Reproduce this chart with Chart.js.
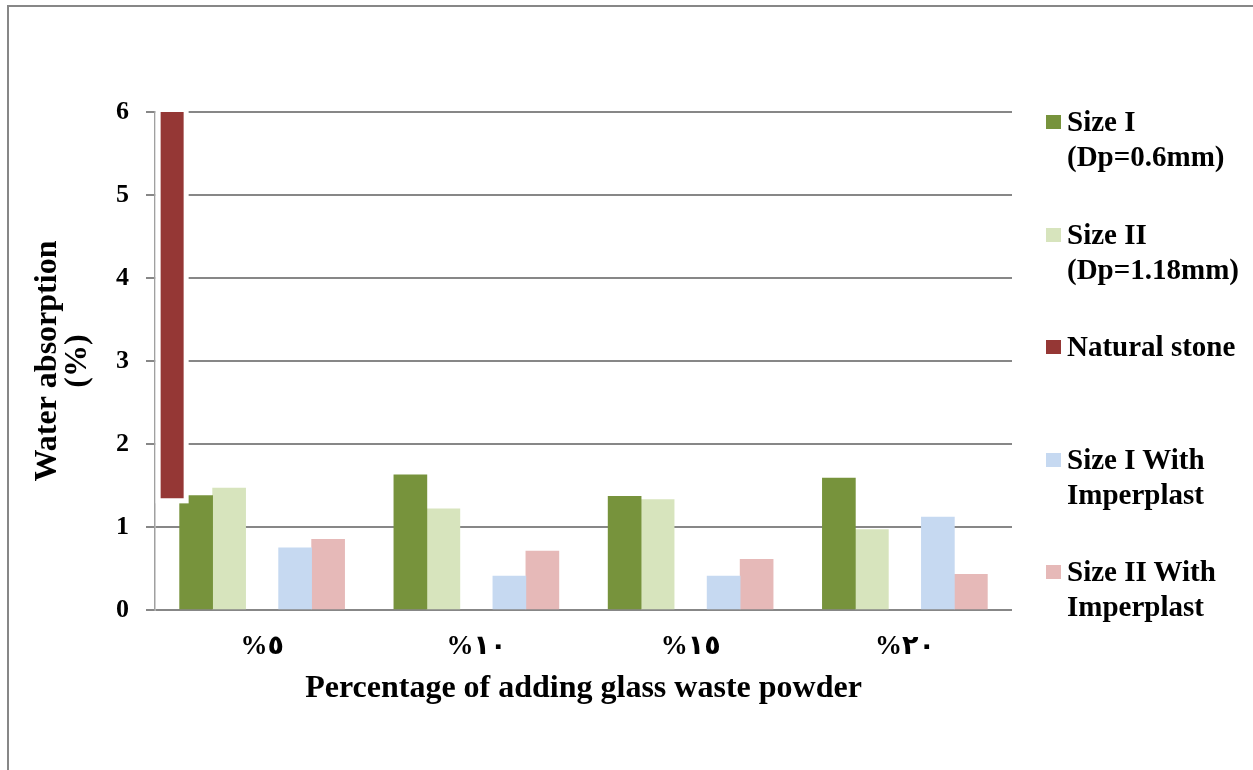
<!DOCTYPE html>
<html>
<head>
<meta charset="utf-8">
<title>Water absorption</title>
<script src="https://cdn.jsdelivr.net/npm/chart.js@4.4.1/dist/chart.umd.min.js"></script>
<style>
  html, body { margin: 0; padding: 0; background: #ffffff; overflow: hidden; }
  #frame { position: absolute; left: 7px; top: 5px; width: 1400px; height: 900px; border: 2px solid #878787; }
  #wrap { position: absolute; left: 0; top: 0; width: 1253px; height: 770px; }
  #legend { position: absolute; left: 1046px; top: 104px; font: bold 29px "Liberation Serif", "Times New Roman", serif; color: #000; line-height: 35px; }
  #legend .item { position: absolute; left: 0; width: 210px; }
  #legend .sw { position: absolute; left: 0; top: 11px; width: 15px; height: 14px; }
  #legend .tx { position: absolute; left: 21px; top: 0; white-space: nowrap; }
</style>
</head>
<body>
<div id="frame"></div>
<div id="wrap"><canvas id="chart" width="1253" height="770"></canvas></div>
<div id="legend"></div>
<script>
// Glass waste powder content (Arabic-Indic numerals)
const categories = ['%٥', '%١٠', '%١٥', '%٢٠'];

// Water absorption (%) per mix
const sizeI = [1.38, 1.63, 1.37, 1.59];
const sizeII = [1.47, 1.22, 1.33, 0.97];
const sizeIWithImperplast = [0.75, 0.41, 0.41, 1.12];
const sizeIIWithImperplast = [0.85, 0.71, 0.61, 0.43];

// Reference natural stone, shown as a single floating bar (low, high)
const naturalStone = [1.345, 6];

const yTicks = [0, 1, 2, 3, 4, 5, 6];

const seriesNames = {
  sizeI: ['Size I', '(Dp=0.6mm)'],
  sizeII: ['Size II', '(Dp=1.18mm)'],
  stone: ['Natural stone'],
  sizeIImp: ['Size I With', 'Imperplast'],
  sizeIIImp: ['Size II With', 'Imperplast']
};

const colors = {
  sizeI: '#77933C',
  sizeII: '#D7E4BD',
  stone: '#953735',
  sizeIImp: '#C6D9F1',
  sizeIIImp: '#E6B9B8'
};

// Where the natural stone bar sits along the category index axis
const STONE_SLOT = -0.42;

const SERIF = '"Liberation Serif", "Times New Roman", "DejaVu Sans", serif';
const GRID = '#878787';

// One point per category, placed on the category index
const byCategory = values => values.map((v, i) => ({ x: i, y: v }));

// White halo behind the natural stone bar
const stoneHalo = {
  id: 'stoneHalo',
  beforeDatasetDraw(chart, args) {
    const ds = chart.data.datasets[args.index];
    if (ds.key !== 'stoneBar') return;
    const ctx = chart.ctx;
    const pad = 5;
    ctx.save();
    ctx.fillStyle = '#ffffff';
    args.meta.data.forEach(el => {
      const p = el.getProps(['x', 'y', 'base', 'width'], true);
      const top = Math.min(p.y, p.base), bot = Math.max(p.y, p.base);
      ctx.fillRect(p.x - p.width / 2 - pad, top - pad, p.width + 2 * pad, bot - top + 2 * pad);
    });
    ctx.restore();
  }
};

const groupOpts = { order: 1, barThickness: 33, borderWidth: 0 };

const chart = new Chart(document.getElementById('chart'), {
  type: 'bar',
  data: {
    datasets: [
      Object.assign({ key: 'sizeI', label: seriesNames.sizeI.join(' '), data: byCategory(sizeI), backgroundColor: colors.sizeI }, groupOpts),
      Object.assign({ key: 'sizeII', label: seriesNames.sizeII.join(' '), data: byCategory(sizeII), backgroundColor: colors.sizeII }, groupOpts),
      // keeps the natural stone slot free inside each group
      Object.assign({ key: 'stoneSlot', label: seriesNames.stone.join(' '), data: byCategory(categories.map(() => null)), backgroundColor: colors.stone }, groupOpts),
      Object.assign({ key: 'sizeIImp', label: seriesNames.sizeIImp.join(' '), data: byCategory(sizeIWithImperplast), backgroundColor: colors.sizeIImp }, groupOpts),
      Object.assign({ key: 'sizeIIImp', label: seriesNames.sizeIIImp.join(' '), data: byCategory(sizeIIWithImperplast), backgroundColor: colors.sizeIIImp }, groupOpts),
      {
        key: 'stoneBar',
        label: seriesNames.stone.join(' '),
        order: 0,
        grouped: false,
        maxBarThickness: 23,
        borderWidth: 0,
        backgroundColor: colors.stone,
        data: [{ x: STONE_SLOT, y: naturalStone }]
      }
    ]
  },
  options: {
    responsive: false,
    devicePixelRatio: 1,
    animation: false,
    layout: { padding: { left: 0, right: 241, top: 112, bottom: 0 } },
    plugins: { legend: { display: false }, tooltip: { enabled: false } },
    scales: {
      x: {
        type: 'linear',
        min: -0.5,
        max: categories.length - 0.5,
        offset: false,
        afterBuildTicks(scale) { scale.ticks = categories.map((c, i) => ({ value: i })); },
        grid: { display: false, drawTicks: false, offset: false },
        border: { display: false },
        ticks: {
          color: '#000',
          padding: 21,
          autoSkip: false,
          maxRotation: 0,
          font: { family: SERIF, size: 27, weight: 'bold' },
          callback: value => categories[value]
        },
        title: {
          display: true,
          text: 'Percentage of adding glass waste powder',
          color: '#000',
          font: { family: SERIF, size: 32, weight: 'bold' },
          padding: { top: 0, bottom: 62 }
        },
        afterFit(scale) { scale.height = 160; }
      },
      y: {
        min: 0,
        max: 6,
        afterBuildTicks(scale) { scale.ticks = yTicks.map(v => ({ value: v })); },
        grid: { color: GRID, lineWidth: 2, tickLength: 9, tickColor: GRID, tickWidth: 2 },
        border: { display: true, color: '#a0a0a0', width: 1.5 },
        ticks: { color: '#000', padding: 17, font: { family: SERIF, size: 26, weight: 'bold' } },
        title: {
          display: true,
          text: ['Water absorption', '(%)'],
          color: '#000',
          font: { family: SERIF, size: 32, weight: 'bold', lineHeight: '30px' },
          padding: { top: 33, bottom: 0 }
        },
        afterFit(scale) { scale.width = 155; }
      }
    }
  },
  plugins: [stoneHalo]
});

// Legend beside the plot, one entry per series
const legendOrder = ['sizeI', 'sizeII', 'stone', 'sizeIImp', 'sizeIIImp'];
const legendEl = document.getElementById('legend');
legendOrder.forEach((k, i) => {
  const item = document.createElement('div');
  item.className = 'item';
  item.style.top = (i * 112.5) + 'px';
  const sw = document.createElement('div');
  sw.className = 'sw';
  sw.style.background = colors[k];
  const tx = document.createElement('div');
  tx.className = 'tx';
  tx.innerHTML = seriesNames[k].map(s => s.replace(/&/g, '&amp;')).join('<br>');
  item.appendChild(sw);
  item.appendChild(tx);
  legendEl.appendChild(item);
});
</script>
</body>
</html>
